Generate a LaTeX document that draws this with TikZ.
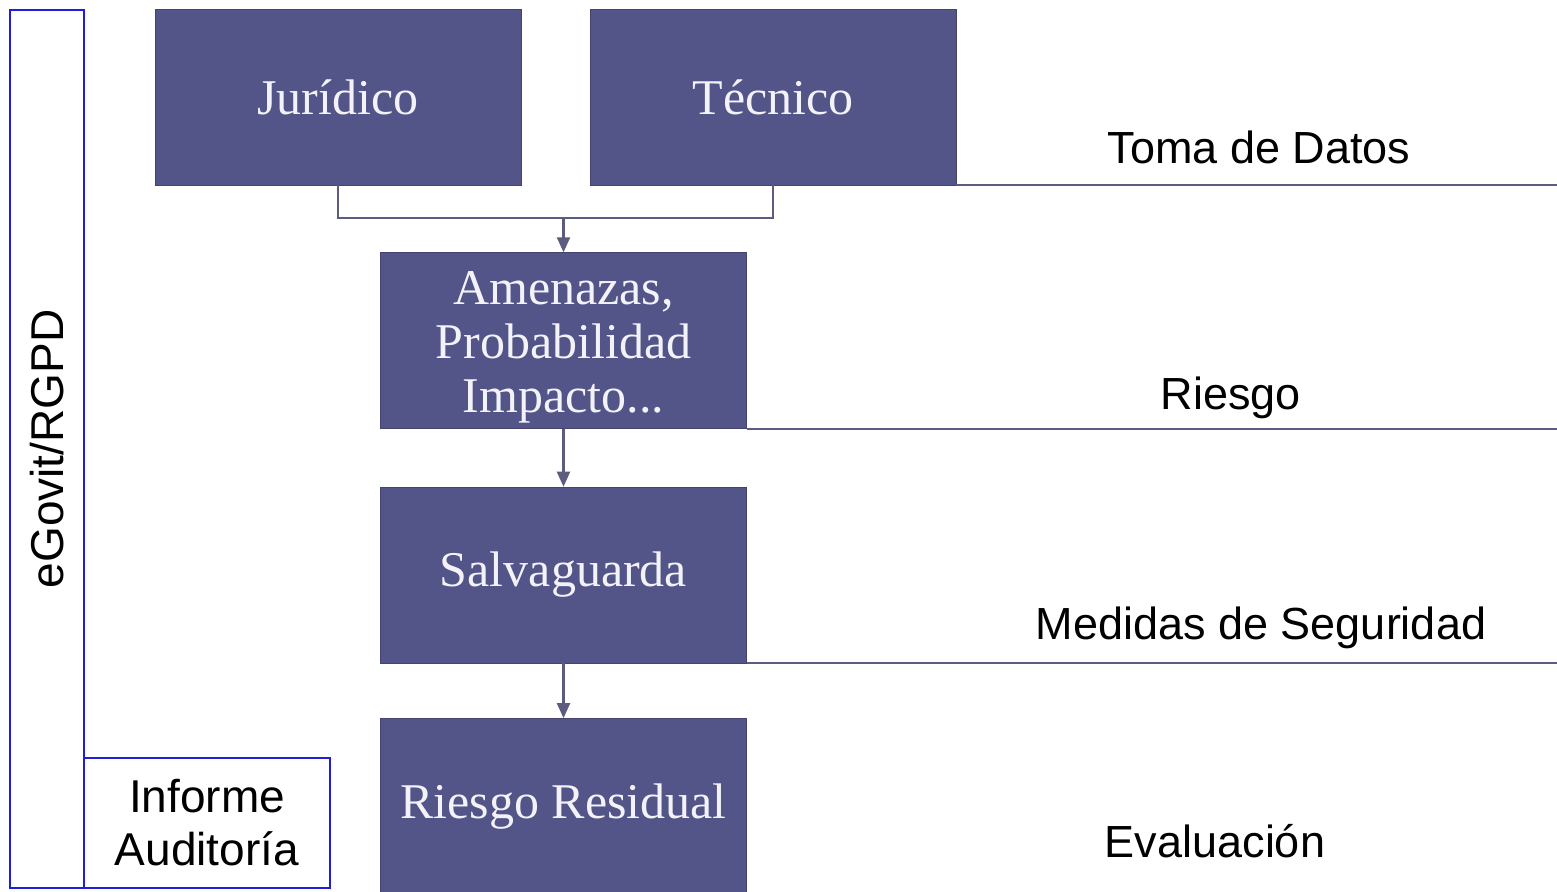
\documentclass[tikz,border=0pt]{standalone}
\usepackage{fontspec}
\setmainfont{Liberation Serif}
\setsansfont{Liberation Sans}
\usepackage{tikz,xcolor}
\usetikzlibrary{positioning, arrows.meta}
\definecolor{caja}{HTML}{535488}
\definecolor{borde}{HTML}{44446E}
\definecolor{linea}{HTML}{5C5C80}
\definecolor{azul}{HTML}{1E1EDC}
\definecolor{letra}{HTML}{F2F2F8}

\begin{document}
\begin{tikzpicture}[x=1pt, y=-1pt, node distance=58pt,
        paso/.style={draw=borde, fill=caja, text=letra, minimum width=366pt, minimum height=176pt, align=center, inner sep=0pt, font=\fontsize{50}{54}\selectfont},
        marco/.style={draw=azul, line width=2pt, inner sep=0pt, align=center, font=\sffamily\fontsize{46}{53}\selectfont},
        etiqueta/.style={anchor=base, font=\sffamily\fontsize{45}{53}\selectfont},
        linea/.style={draw=linea, line width=2.2pt},
        flecha/.style={linea, -{Triangle[length=15pt, width=13pt]}}]
            \clip (0,0) rectangle (1557,891);
            \node[paso]                         (juridico) at (338,97)      {Jurídico};
            \node[paso]                         (tecnico)  at (773,97)      {Técnico};
            \node[paso]                         (amenazas) at (563.5,340.5) {\\[-8pt]Amenazas,\\Probabilidad\\Impacto...};
            \node[paso, below=of amenazas]      (salva)    {Salvaguarda};
            \node[paso, below=55pt of salva]    (residual) {Riesgo Residual};

            \node[marco, rotate=90, minimum width=878pt, minimum height=74pt] (egovit)  at (47,449)  {eGovit/RGPD};
            \node[marco, minimum width=246pt, minimum height=130pt]           (informe) at (207,823) {Informe\\Auditoría};

            \node[etiqueta] (toma)    at (1259,163) {Toma de Datos};
            \node[etiqueta] (riesgo)  at (1231,409) {Riesgo};
            \node[etiqueta] (medidas) at (1261,639) {Medidas de Seguridad};
            \node[etiqueta] (evalua)  at (1215,857) {Evaluación};

            \coordinate (union) at (563.5,218);
            \coordinate (borde) at (1557,0);
            \draw[linea] (juridico.south) |- (union) -| (tecnico.south);
            \draw[flecha] (union) -- (amenazas);
            \draw[flecha] (amenazas) -- (salva);
            \draw[flecha] (salva) -- (residual);

            \draw[linea] (tecnico.south east) -- (tecnico.south east -| borde);
            \draw[linea] (amenazas.south east) -- (amenazas.south east -| borde);
            \draw[linea] (salva.south east) -- (salva.south east -| borde);
        \end{tikzpicture}
\end{document}
